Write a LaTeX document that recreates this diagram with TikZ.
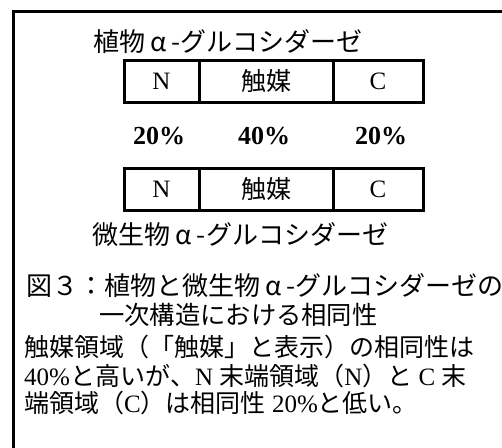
\documentclass[tikz,border=0pt]{standalone}
\usepackage{fontspec}
\setmainfont{Liberation Serif}
\newfontfamily\jp{Noto Sans CJK JP}[Kerning=Off]
\newcommand{\fwalpha}{\makebox[1em]{α}}
\newcommand{\opp}[1]{\makebox[1em][r]{#1}}
\newcommand{\clp}[1]{\makebox[1em][l]{#1}}
\begin{document}
\begin{tikzpicture}[x=1pt,y=-1pt,
  cell/.style={draw,line width=3pt,minimum height=42pt,inner sep=0pt,font=\fontsize{25}{28}\selectfont},
  pct/.style={inner sep=0pt,font=\fontsize{26}{28}\selectfont\bfseries},
  head/.style={inner sep=0pt,font=\jp\fontsize{26}{28}\selectfont},
  body/.style={inner sep=0pt,anchor=west,font=\fontsize{25}{28}\selectfont},
  frame/.style={line width=3pt}]
\useasboundingbox (0,0) rectangle (502,447);
% frame
\coordinate (fb) at (13,448);
\coordinate (fc) at (13,11);
\coordinate (fr) at (503,11);
\draw[frame] (fb) -- (fc) -- (fr);
% title 1
\node[head] (t1) at (228,42) {植物\fwalpha-グルコシダーゼ};
% box 1
\node[cell,minimum width=75pt] (n1) at (161.5,81) {N};
\node[cell,minimum width=134pt] (k1) at (266,81) {\jp 触媒};
\node[cell,minimum width=90pt] (c1) at (378,81) {C};
% percentages
\node[pct] (p1) at (159,136) {20\%};
\node[pct] (p2) at (264,136) {40\%};
\node[pct] (p3) at (381,136) {20\%};
% box 2
\node[cell,minimum width=75pt] (n2) at (161.5,189) {N};
\node[cell,minimum width=134pt] (k2) at (266,189) {\jp 触媒};
\node[cell,minimum width=90pt] (c2) at (378,189) {C};
% title 2
\node[head] (t2) at (240.5,235) {微生物\fwalpha-グルコシダーゼ};
% caption
\node[head,anchor=west] (cap1) at (26,286) {図３\clp{：}植物と微生物\fwalpha-グルコシダーゼの};
\node[head,anchor=west,font=\jp\fontsize{25.3}{28}\selectfont] (cap2) at (99,315) {一次構造における相同性};
% body
\node[body] (b1) at (24,347) {\jp 触媒領域\opp{（}\opp{「}触媒\clp{」}と表示\clp{）}の相同性は};
\node[body] (b2) at (24,376) {40\%{\jp と高いが\clp{、}}N\ {\jp 末端領域\opp{（}}N{\jp \clp{）}と}\ C\ {\jp 末}};
\node[body] (b3) at (24,403) {{\jp 端領域\opp{（}}C{\jp \clp{）}は相同性}\ 20\%{\jp と低い\clp{。}}};
\end{tikzpicture}
\end{document}
